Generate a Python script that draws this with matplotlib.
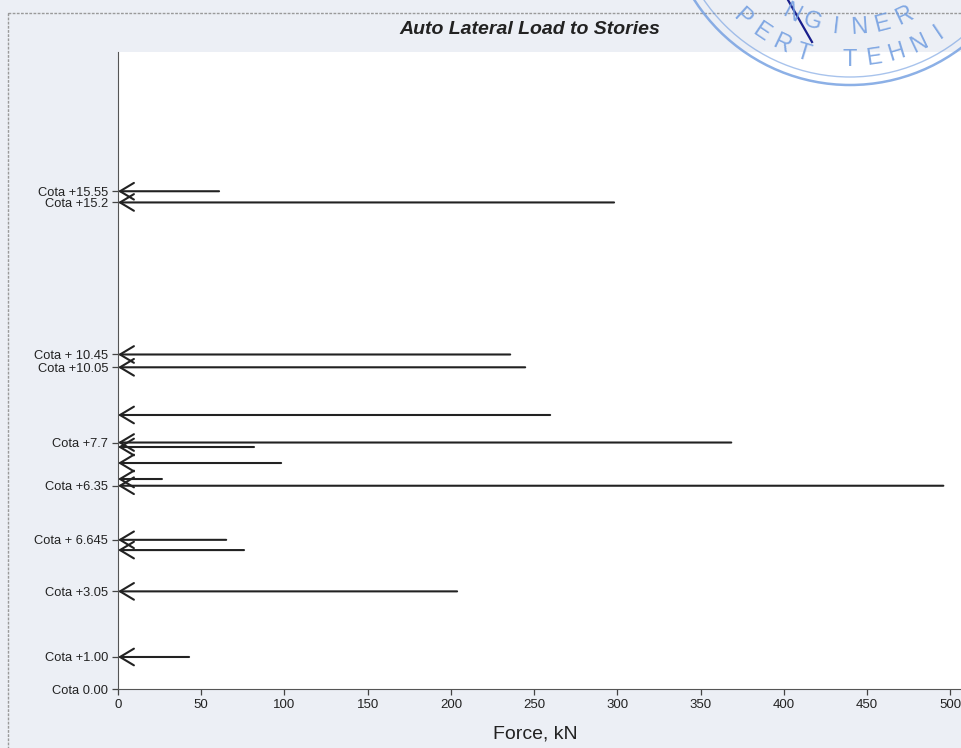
import numpy as np
import matplotlib.pyplot as plt
from matplotlib.patches import Rectangle, Circle

# cotas (m) y fuerzas laterales (kN)
elevaciones = [15.55, 15.2, 10.45, 10.05, 8.56, 7.7, 7.56, 7.06, 6.56, 6.35,
               4.66, 4.34, 3.05, 1.00]
fuerzas = [60.7, 298.0, 235.6, 244.6, 259.6, 368.4, 81.7, 98.0, 26.4, 495.8,
           65.0, 75.7, 203.7, 42.7]

# etiquetas de los niveles
pos_etiquetas = [15.55, 15.2, 10.45, 10.05, 7.7, 6.35, 4.66, 3.05, 1.00, 0.0]
etiquetas = ["Cota +15.55", "Cota +15.2", "Cota + 10.45", "Cota +10.05",
             "Cota +7.7", "Cota +6.35", "Cota + 6.645", "Cota +3.05",
             "Cota +1.00", "Cota 0.00"]
ticks_x = [0, 50, 100, 150, 200, 250, 300, 350, 400, 450, 500]

plt.rcParams['font.family'] = ['Liberation Sans', 'DejaVu Sans']

fig = plt.figure(figsize=(9.62, 7.48), dpi=100)
fig.patch.set_facecolor('#eceff5')

W, H = 962.0, 748.0
ax = fig.add_axes([118 / W, 1 - 689 / H, 844 / W, 637 / H])
ax.set_facecolor('white')
ax.set_xlim(0, 507)
ax.set_ylim(0, 19.9)

# flechas
for y, f in zip(elevaciones, fuerzas):
    ax.annotate('', xy=(0, y), xytext=(f, y),
                arrowprops=dict(arrowstyle='->,head_length=0.5,head_width=0.3',
                                color='#222222', lw=1.5, shrinkA=0, shrinkB=0,
                                mutation_scale=20))

# ejes
for s in ['top', 'right']:
    ax.spines[s].set_visible(False)
ax.spines['left'].set_color('#555555')
ax.spines['bottom'].set_color('#555555')
ax.set_yticks(pos_etiquetas)
ax.set_yticklabels(etiquetas, fontsize=9.3, color='#222222')
ax.set_xticks(ticks_x)
ax.set_xticklabels([str(t) for t in ticks_x], fontsize=9.5, color='#222222')
ax.tick_params(axis='both', length=4, width=0.9, color='#444444', pad=3)

ax.set_xlabel('Force, kN', fontsize=14, color='#222222')
ax.xaxis.set_label_coords(0.495, -0.058)
fig.text(530 / W, 1 - 29 / H, 'Auto Lateral Load to Stories', fontsize=14,
         fontweight='bold', style='italic', color='#222222',
         ha='center', va='center')

# capa de decoracion en pixeles: marco y sello
ov = fig.add_axes([0, 0, 1, 1], zorder=5)
ov.set_xlim(0, W)
ov.set_ylim(H, 0)
ov.axis('off')
ov.patch.set_visible(False)
ov.add_patch(Rectangle((8, 13), 970, 760, fill=False, edgecolor='#9a9a9a',
                       lw=1.0, ls=(0, (2, 1))))

cx, cy = 850, -100
azul = '#6f9ce0'
ov.add_patch(Circle((cx, cy), 185, fill=False, edgecolor=azul, lw=1.8,
                    alpha=0.8))
ov.add_patch(Circle((cx, cy), 177, fill=False, edgecolor=azul, lw=1.0,
                    alpha=0.6))


def letras_arco(texto, r, th0, dth, fs):
    for i, ch in enumerate(texto):
        th = np.radians(th0 + i * dth)
        x = cx + r * np.sin(th)
        y = cy + r * np.cos(th)
        ov.text(x, y, ch, fontsize=fs, color=azul, alpha=0.85,
                rotation=np.degrees(th), ha='center', va='center')


letras_arco('NGINER', 128, -27.5, 10.5, 17)
letras_arco('PERT', 160, -42.5, 8.5, 17)
letras_arco('TEHNI', 160, 0, 8.5, 17)
ov.plot([788, 812], [0, 42], color='#1a1f8c', lw=1.6)

fig.savefig('out.png', dpi=100, facecolor=fig.get_facecolor())
